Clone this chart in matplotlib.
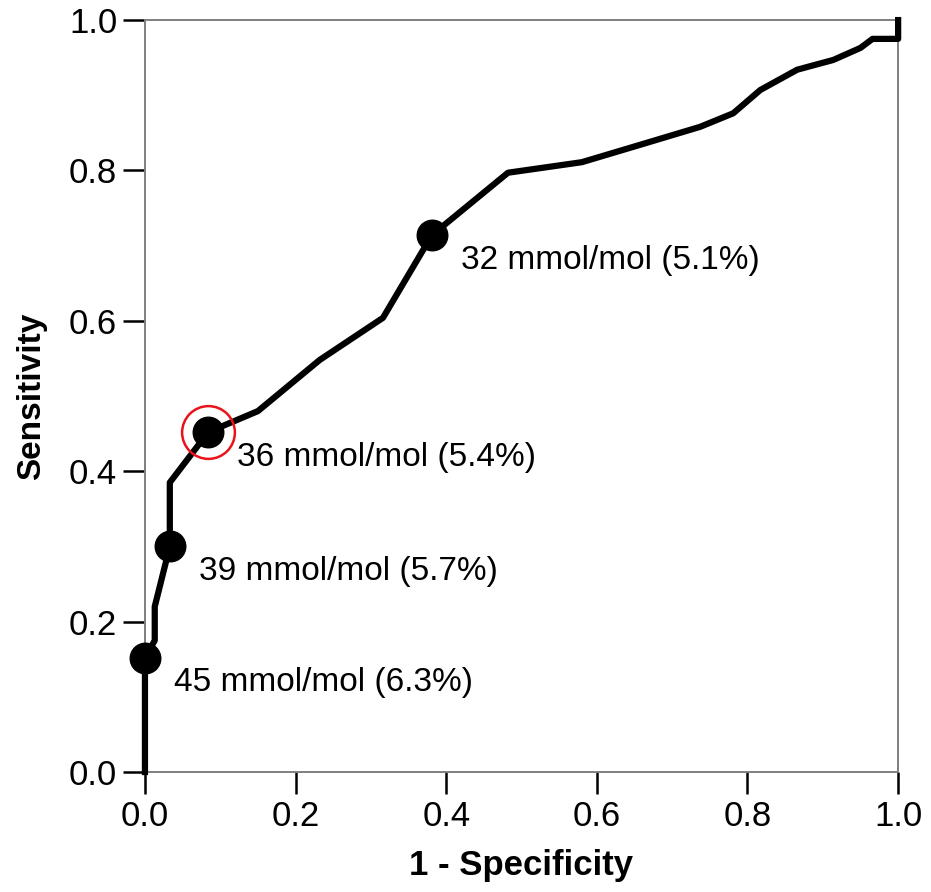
import matplotlib
matplotlib.use("Agg")
import matplotlib.pyplot as plt

plt.rcParams['font.family'] = ['Liberation Sans', 'DejaVu Sans']

# ROC curve
fpr = [0.0, 0.0, 0.013, 0.013, 0.033, 0.033, 0.084, 0.150, 0.232, 0.316, 0.381,
       0.482, 0.580, 0.657, 0.737, 0.781, 0.817, 0.866, 0.914, 0.950, 0.966,
       1.0, 1.0]
tpr = [0.0, 0.152, 0.175, 0.220, 0.300, 0.385, 0.452, 0.480, 0.548, 0.604, 0.714,
       0.797, 0.811, 0.834, 0.858, 0.876, 0.907, 0.934, 0.947, 0.963, 0.975,
       0.975, 1.0]

# cut-off points
cut_x = [0.381, 0.084, 0.033, 0.0]
cut_y = [0.714, 0.452, 0.300, 0.152]
cut_labels = ["32 mmol/mol (5.1%)", "36 mmol/mol (5.4%)",
              "39 mmol/mol (5.7%)", "45 mmol/mol (6.3%)"]
highlight = 1

fig = plt.figure(figsize=(9.31, 8.92), dpi=100)
ax = fig.add_axes([0.1557, 0.1345, 0.809, 0.843])

ax.plot(fpr, tpr, color='black', lw=4.5, solid_joinstyle='round', clip_on=False, zorder=3)
ax.plot(cut_x, cut_y, 'o', color='black', ms=22, clip_on=False, zorder=4)
ax.plot(cut_x[highlight], cut_y[highlight], 'o', ms=38, mfc='none', mec='#e8141a',
        mew=1.8, clip_on=False, zorder=5)

for x, y, lab in zip(cut_x, cut_y, cut_labels):
    ax.annotate(lab, (x, y), xytext=(21, -18), textcoords='offset points',
                fontsize=24, va='center', ha='left')

ax.set_xlim(0, 1)
ax.set_ylim(0, 1)
ticks = [0.0, 0.2, 0.4, 0.6, 0.8, 1.0]
ax.set_xticks(ticks)
ax.set_yticks(ticks)
ax.set_xticklabels([f"{t:.1f}" for t in ticks])
ax.set_yticklabels([f"{t:.1f}" for t in ticks])
ax.tick_params(direction='out', length=16, width=1.8, labelsize=25, pad=4, color='black')

for s in ax.spines.values():
    s.set_color('#7f7f7f')
    s.set_linewidth(1.4)

ax.set_xlabel("1 - Specificity", fontsize=25, fontweight='bold', labelpad=12)
ax.set_ylabel("Sensitivity", fontsize=24, fontweight='bold', labelpad=16)

fig.savefig("out.png", dpi=100)
